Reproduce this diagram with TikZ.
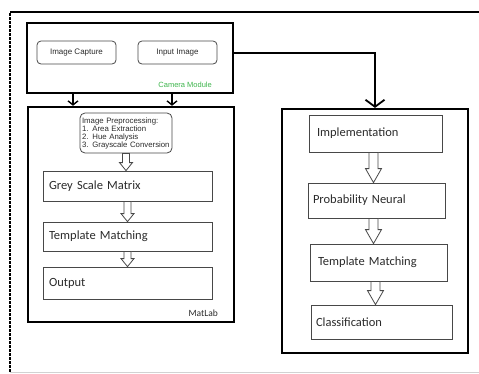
\documentclass[tikz,border=0pt]{standalone}
\usepackage{fontspec}
\setmainfont{Carlito}
\newfontfamily\arialf{Liberation Sans}
\usetikzlibrary{arrows.meta,calc}
\definecolor{txt}{HTML}{2A2A2A}
\definecolor{bord}{HTML}{484848}
\definecolor{camgreen}{HTML}{3CB44B}
\begin{document}
\begin{tikzpicture}[x=1pt,y=-1pt,
  frame/.style={line width=2.6pt, dash pattern=on 3.5pt off 0.5pt},
  group/.style={draw=black, line width=2.5pt, inner sep=0pt},
  blk/.style n args={3}{draw=bord, line width=0.8pt, inner xsep=#3, inner ysep=0pt,
     text width=#1, minimum height=#2, align=left, text=txt,
     font=\fontsize{12.5}{14}\selectfont},
  cambtn/.style={draw=bord, line width=0.8pt, rounded corners=4pt, minimum width=79pt,
     minimum height=23pt, inner sep=0pt, text=txt, font=\arialf\fontsize{8}{9}\selectfont},
  conn/.style={draw=black, line width=1.4pt, -{Straight Barb[length=4pt,width=10pt]}},
  bigconn/.style={draw=black, line width=1.8pt, -{Straight Barb[length=7pt,width=19pt]}},
  harrow/.style n args={3}{draw=bord, line width=0.8pt, fill=white,
     to path={let \p1=(\tikztostart), \p2=(\tikztotarget) in
       (\x1-#1,\y1) -- (\x1+#1,\y1) -- (\x1+#1,\y2+#3) -- (\x1+#2,\y2+#3) -- (\x1,\y2)
       -- (\x1-#2,\y2+#3) -- (\x1-#1,\y2+#3) -- cycle}},
  small/.style={harrow={3.5pt}{6.5pt}{8pt}},
  large/.style={harrow={4.5pt}{8pt}{14pt}}]
\useasboundingbox (0,0) rectangle (479,373);

% outer frame
\coordinate (fbl) at (10,372);
\coordinate (ftl) at (10,12);
\coordinate (ftr) at (482,12);
\coordinate (fbr) at (479,372);
\draw[frame] (fbl) -- (ftl) -- (ftr);
\draw[gray!35, line width=0.8pt] (fbl) -- (fbr);

% camera module
\node[group, minimum width=206pt, minimum height=70pt] (cam) at (130,58) {};
\node[cambtn] (capture) at (76.5,52.5) {Image Capture};
\node[cambtn] (input) at (177.5,52.5) {Input Image};
\node[anchor=east, inner sep=0pt, text=camgreen, font=\arialf\fontsize{7.5}{9}\selectfont] (camlbl) at (212,85) {Camera Module};

% matlab group
\node[group, minimum width=206pt, minimum height=215pt] (mat) at (131,214.5) {};
\node[draw=bord, line width=0.8pt, rounded corners=5pt, inner xsep=2pt, inner ysep=2pt,
  text width=88pt, minimum height=40pt, align=left, text=txt,
  font=\arialf\fontsize{7.8}{8}\selectfont] (pre) at (126,133)
  {Image Preprocessing:\\1. Area Extraction\\2. Hue Analysis\\3. Grayscale Conversion};
\node[blk={157pt}{30pt}{6pt}] (grey) at (127.5,186) {Grey Scale Matrix};
\node[blk={157pt}{29pt}{6pt}] (tml) at (127.5,236.5) {Template Matching};
\node[blk={157pt}{32pt}{6pt}] (out) at (127.5,283) {Output};
\node[anchor=east, inner sep=0pt, text=txt, font=\fontsize{9.5}{11}\selectfont] (matlbl) at (218,313) {MatLab};

% right group
\node[group, line width=2.2pt, minimum width=186pt, minimum height=244pt] (rgt) at (375,231) {};
\node[blk={117pt}{37pt}{8pt}] (impl) at (375.5,133.5) {Implementation};
\node[blk={127pt}{35pt}{5pt}] (prob) at (376.5,200.5) {Probability Neural};
\node[blk={121pt}{37pt}{8pt}] (tmr) at (378.5,262.5) {Template Matching};
\node[blk={131pt}{34pt}{5pt}] (cls) at (381.5,322) {Classification};

% connectors
\draw[conn] ([xshift=-57pt]cam.south) -- ([xshift=-58pt]mat.north);
\draw[conn] ([xshift=42pt]cam.south) -- ([xshift=41pt]mat.north);
\draw[bigconn] ([yshift=5pt]cam.east) -| (rgt.north);

% hollow arrows
\path[small] (pre.south) to (pre.south |- grey.north);
\path[small] (grey.south) to (grey.south |- tml.north);
\path[small] (tml.south) to (tml.south |- out.north);
\path[large] ([xshift=-2pt]impl.south) to ([xshift=-2pt]impl.south |- prob.north);
\path[large] ([xshift=-3pt]prob.south) to ([xshift=-3pt]prob.south |- tmr.north);
\path[large] ([xshift=-3pt]tmr.south) to ([xshift=-3pt]tmr.south |- cls.north);
\end{tikzpicture}
\end{document}
